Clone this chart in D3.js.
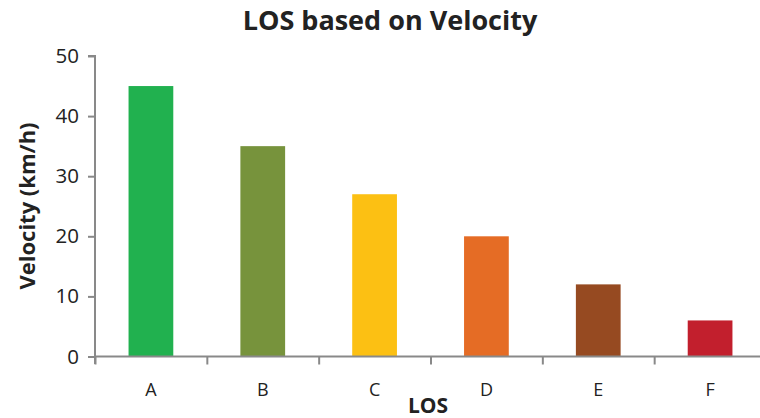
<!DOCTYPE html>
<html><head><meta charset="utf-8">
<script src="https://cdn.jsdelivr.net/npm/d3@7"></script>
<style>body{margin:0;background:#fff}svg{display:block}</style>
</head><body><svg id="c" width="760" height="418"></svg>
<script>
const categories = ["A","B","C","D","E","F"];
const values = [45,35,27,20,12,6];
const colors = ["#21b14f","#77933c","#fcc013","#e56c25","#964a21","#c21f2d"];
const yTicks = [0,10,20,30,40,50];
const title = "LOS based on Velocity";
const xTitle = "LOS";
const yTitle = "Velocity (km/h)";

const svg = d3.select("#c");
const font = "'Open Sans', sans-serif";
const x = d3.scaleBand().domain(categories).range([95, 766]).paddingInner(0.6).paddingOuter(0.3);
const y = d3.scaleLinear().domain([0,50]).range([356.5, 56]);

svg.selectAll("rect.bar").data(values).join("rect").attr("class","bar")
  .attr("x",(d,i)=>x(categories[i])).attr("width",x.bandwidth())
  .attr("y",d=>y(d)).attr("height",d=>y(0)-y(d))
  .attr("fill",(d,i)=>colors[i]);

const gy = svg.append("g").attr("transform","translate(95,0)")
  .call(d3.axisLeft(y).tickValues(yTicks).tickSize(7).tickPadding(9));
gy.select(".domain").attr("stroke","#898989").attr("stroke-width",2).attr("d","M-7,56H0V364");
gy.selectAll(".tick line").attr("stroke","#898989").attr("stroke-width",2);
gy.selectAll(".tick text").attr("font-family",font).attr("font-size",20.5).attr("fill","#222");

const xb = d3.scaleLinear().domain([0,6]).range([95,766]);
const gx = svg.append("g").attr("transform","translate(0,356.5)")
  .call(d3.axisBottom(xb).tickValues(d3.range(0,7)).tickSize(8).tickFormat(""));
gx.select(".domain").attr("stroke","#898989").attr("stroke-width",2).attr("d","M95,0H766");
gx.selectAll(".tick line").attr("stroke","#898989").attr("stroke-width",2);

svg.append("g").selectAll("text").data(categories).join("text")
  .attr("x",d=>x(d)+x.bandwidth()/2).attr("y",396)
  .attr("text-anchor","middle").attr("font-family",font).attr("font-size",18).attr("fill","#222")
  .text(d=>d);

svg.append("text").attr("x",390).attr("y",30).attr("text-anchor","middle")
  .attr("font-family",font).attr("font-weight","bold").attr("font-size",27).attr("fill","#222").text(title);
svg.append("text").attr("x",428).attr("y",413).attr("text-anchor","middle")
  .attr("font-family",font).attr("font-weight","bold").attr("font-size",21).attr("fill","#222").text(xTitle);
svg.append("text").attr("transform","translate(35,206) rotate(-90)").attr("text-anchor","middle")
  .attr("font-family",font).attr("font-weight","bold").attr("font-size",22).attr("fill","#222").text(yTitle);
</script></body></html>
